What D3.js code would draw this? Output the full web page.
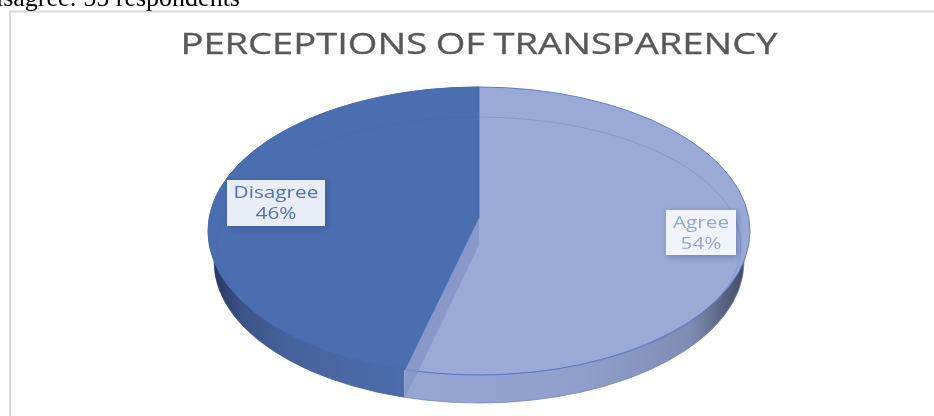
<!DOCTYPE html>
<html>
  <head>
    <meta charset="utf-8">
    <title>Perceptions of Transparency</title>
    <style>
      html, body { margin: 0; padding: 0; background: #fff; overflow: hidden; }
      svg { display: block; }
      .soft { filter: url(#soft); }
      .title { font-family: "Open Sans", sans-serif; fill: #595959; stroke: #595959; stroke-width: 0.35; }
      .caption { font-family: "Liberation Serif", serif; fill: #000; }
      .label { font-family: "Open Sans", sans-serif; text-anchor: middle; }
    </style>
    <script src="https://cdn.jsdelivr.net/npm/d3@7"></script>
  </head>
  <body>
    <svg width="934" height="416"></svg>

    <script>
      var categories = ["Agree", "Disagree"];
      var values = [54, 46];
      var titleText = "PERCEPTIONS OF TRANSPARENCY";
      var captionText = "Disagree: 55 respondents";

      var svg = d3.select("svg");
      var defs = svg.append("defs");

      defs.append("filter").attr("id", "soft")
        .append("feGaussianBlur").attr("stdDeviation", 0.45);

      var shadow = defs.append("filter").attr("id", "shadow")
        .attr("x", "-20%").attr("y", "-20%").attr("width", "140%").attr("height", "140%");
      shadow.append("feDropShadow")
        .attr("dx", 2).attr("dy", 2).attr("stdDeviation", 3)
        .attr("flood-color", "#1f2f55").attr("flood-opacity", 0.3);

      function wallGradient(id, stops) {
        var g = defs.append("linearGradient").attr("id", id)
          .attr("gradientUnits", "userSpaceOnUse")
          .attr("x1", stops[0][0]).attr("x2", stops[stops.length - 1][0])
          .attr("y1", 0).attr("y2", 0);
        stops.forEach(function(s) {
          g.append("stop")
            .attr("offset", (s[0] - stops[0][0]) / (stops[stops.length - 1][0] - stops[0][0]))
            .attr("stop-color", s[1]);
        });
      }
      wallGradient("wallDark", [[212, "#25365c"], [240, "#3a5285"], [290, "#47639d"], [404, "#4a6cab"]]);
      wallGradient("wallLight", [[404, "#97a6d2"], [580, "#909fcc"], [690, "#7f8cb5"], [745, "#414a60"]]);

      // top face of the pie, and the tilt that pulls its centre above the ellipse middle
      var cx = 479, cy = 231, rx = 271, ry = 144;
      var hubY = 218, depth = 27;
      var faceTop = 87, faceBottom = 375;
      var k = (2 * hubY - faceTop - faceBottom) / (faceBottom + faceTop - 2 * cy + 2 * ry);
      var a = faceBottom * (1 + k) - hubY;
      var c = rx * Math.sqrt(1 - k * k);

      function project(angle) {
        var u = Math.sin(angle), v = -Math.cos(angle), w = 1 + k * v;
        return [cx + c * u / w, (hubY + a * v) / w];
      }

      var slices = d3.pie().sort(null)(values);
      // Agree runs clockwise from 12 o'clock, so the split sits where it ends
      var split = project(slices[0].endAngle);

      var chart = svg.append("g").attr("class", "soft");

      // frame
      chart.append("path")
        .attr("d", "M10,416V11.5H934")
        .attr("fill", "none").attr("stroke", "#d9d9d9").attr("stroke-width", 2);

      // text line cut off by the top of the picture
      chart.append("text").attr("class", "caption")
        .attr("x", 240).attr("y", 6)
        .attr("text-anchor", "end")
        .attr("font-size", 26)
        .text(captionText);

      chart.append("text").attr("class", "title")
        .attr("x", 479).attr("y", 54)
        .attr("text-anchor", "middle")
        .attr("font-size", 30)
        .attr("textLength", 597)
        .attr("lengthAdjust", "spacingAndGlyphs")
        .attr("word-spacing", -1)
        .text(titleText);

      // side wall
      var wallRx = 265, wallCy = 262, wallRy = 141;
      chart.append("ellipse")
        .attr("cx", cx).attr("cy", wallCy).attr("rx", wallRx).attr("ry", wallRy)
        .attr("fill", "url(#wallLight)")
        .attr("stroke", "#6f86c8").attr("stroke-width", 0.8);

      var wallClip = defs.append("clipPath").attr("id", "wallLeft");
      wallClip.append("rect").attr("x", 190).attr("y", 200)
        .attr("width", split[0] - 1.5 - 190).attr("height", 216);
      chart.append("ellipse")
        .attr("clip-path", "url(#wallLeft)")
        .attr("cx", cx).attr("cy", wallCy).attr("rx", wallRx).attr("ry", wallRy)
        .attr("fill", "url(#wallDark)");

      // top face: Agree fills the ellipse, Disagree is cut out of it from the hub
      chart.append("ellipse")
        .attr("cx", cx).attr("cy", cy).attr("rx", rx).attr("ry", ry)
        .attr("fill", "#9aa9d6")
        .attr("stroke", "#5f7fc9").attr("stroke-width", 1);

      chart.append("path")
        .attr("d", "M" + cx + "," + hubY + "L" + cx + "," + faceTop +
          "A" + rx + "," + ry + " 0 0 0 " + split[0] + "," + split[1] + "Z")
        .attr("fill", "#4b6eb0")
        .attr("stroke", "#456aae").attr("stroke-width", 0.8);

      // cut face of the Disagree slice, seen through the lighter slice
      chart.append("path")
        .attr("d", "M" + cx + "," + hubY +
          "L" + split[0] + "," + split[1] +
          "L" + (split[0] - 1) + "," + (split[1] + depth + 1) +
          "L" + (split[0] + 11) + "," + faceBottom +
          "L" + cx + "," + (hubY + depth) + "Z")
        .attr("fill", "#8898c8");

      // inner bevel line
      chart.append("ellipse")
        .attr("cx", cx).attr("cy", 246).attr("rx", 262).attr("ry", 129)
        .attr("fill", "none").attr("stroke", "#3f62a6").attr("stroke-opacity", 0.25).attr("stroke-width", 1);

      // labels
      var labelBoxes = [
        {x: 666, y: 210, w: 70, h: 45, fill: "#f1f4fb", ink: "#94a6d8", base: 228},
        {x: 227, y: 180, w: 98, h: 46, fill: "#e9edf7", ink: "#4a72c0", base: 198}
      ];
      var label = chart.selectAll("g.slice-label")
        .data(slices)
        .enter().append("g").attr("class", "slice-label");

      label.append("rect")
        .attr("x", function(d, i) { return labelBoxes[i].x; })
        .attr("y", function(d, i) { return labelBoxes[i].y; })
        .attr("width", function(d, i) { return labelBoxes[i].w; })
        .attr("height", function(d, i) { return labelBoxes[i].h; })
        .attr("fill", function(d, i) { return labelBoxes[i].fill; })
        .attr("filter", "url(#shadow)");

      label.each(function(d, i) {
        var box = labelBoxes[i], g = d3.select(this);
        [categories[i], d.data + "%"].forEach(function(line, n) {
          var t = g.append("text").attr("class", "label")
            .attr("x", box.x + box.w / 2).attr("y", box.base + n * 21)
            .attr("fill", box.ink).attr("font-size", 17)
            .text(line);
          // the reference is stretched sideways, its labels run wider than the font
          t.attr("textLength", t.node().getComputedTextLength() * 1.22)
            .attr("lengthAdjust", "spacingAndGlyphs");
        });
      });
    </script>
  </body>
</html>
